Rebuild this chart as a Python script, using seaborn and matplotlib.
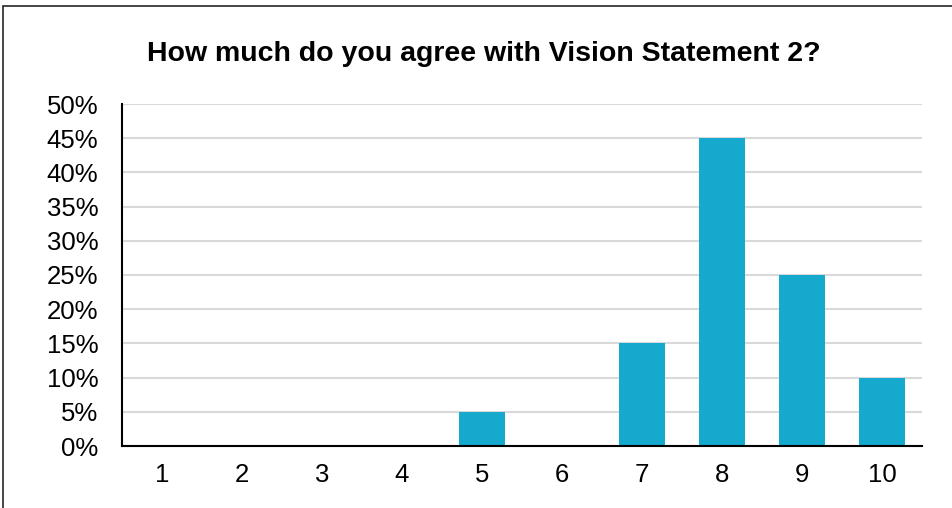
import matplotlib
matplotlib.use("Agg")
import matplotlib.pyplot as plt
import seaborn as sns
import pandas as pd
from matplotlib.patches import Rectangle
from matplotlib.ticker import FuncFormatter

scores = ["1", "2", "3", "4", "5", "6", "7", "8", "9", "10"]
share = [0, 0, 0, 0, 5, 0, 15, 45, 25, 10]
title = "How much do you agree with Vision Statement 2?"

sns.set_theme(style="white")
plt.rcParams["font.family"] = ["Liberation Sans", "DejaVu Sans"]

df = pd.DataFrame({"score": scores, "share": share})

fig = plt.figure(figsize=(9.53, 5.08), dpi=100)
ax = fig.add_axes([122 / 953, 1 - 446 / 508, 800 / 953, 342 / 508])

sns.barplot(data=df, x="score", y="share", color="#16A9CE", saturation=1,
            width=0.575, linewidth=0, ax=ax, zorder=3)

ax.set_ylim(0, 50)
ax.set_yticks(range(0, 51, 5))
ax.yaxis.set_major_formatter(FuncFormatter(lambda v, p: f"{v:.0f}%"))
ax.grid(axis="y", color="#D9D9D9", linewidth=1.5, zorder=0)
ax.set_axisbelow(True)
ax.set_xlabel("")
ax.set_ylabel("")
for s in ["top", "right"]:
    ax.spines[s].set_visible(False)
for s in ["left", "bottom"]:
    ax.spines[s].set_color("black")
    ax.spines[s].set_linewidth(1.5)
    ax.spines[s].set_zorder(4)
ax.tick_params(axis="both", length=0, labelsize=18.5, colors="black")
ax.tick_params(axis="x", pad=12)
ax.tick_params(axis="y", pad=17)

fig.text(484 / 953, 1 - 54 / 508, title, ha="center", va="center",
         fontsize=20.5, fontweight="bold", color="black")

fig.patches.append(Rectangle((3 / 953, -0.1), 1.2, 1 - 6 / 508 + 0.1,
                             transform=fig.transFigure, fill=False,
                             edgecolor="#262626", linewidth=1.2))

fig.savefig("out.png", dpi=100)
